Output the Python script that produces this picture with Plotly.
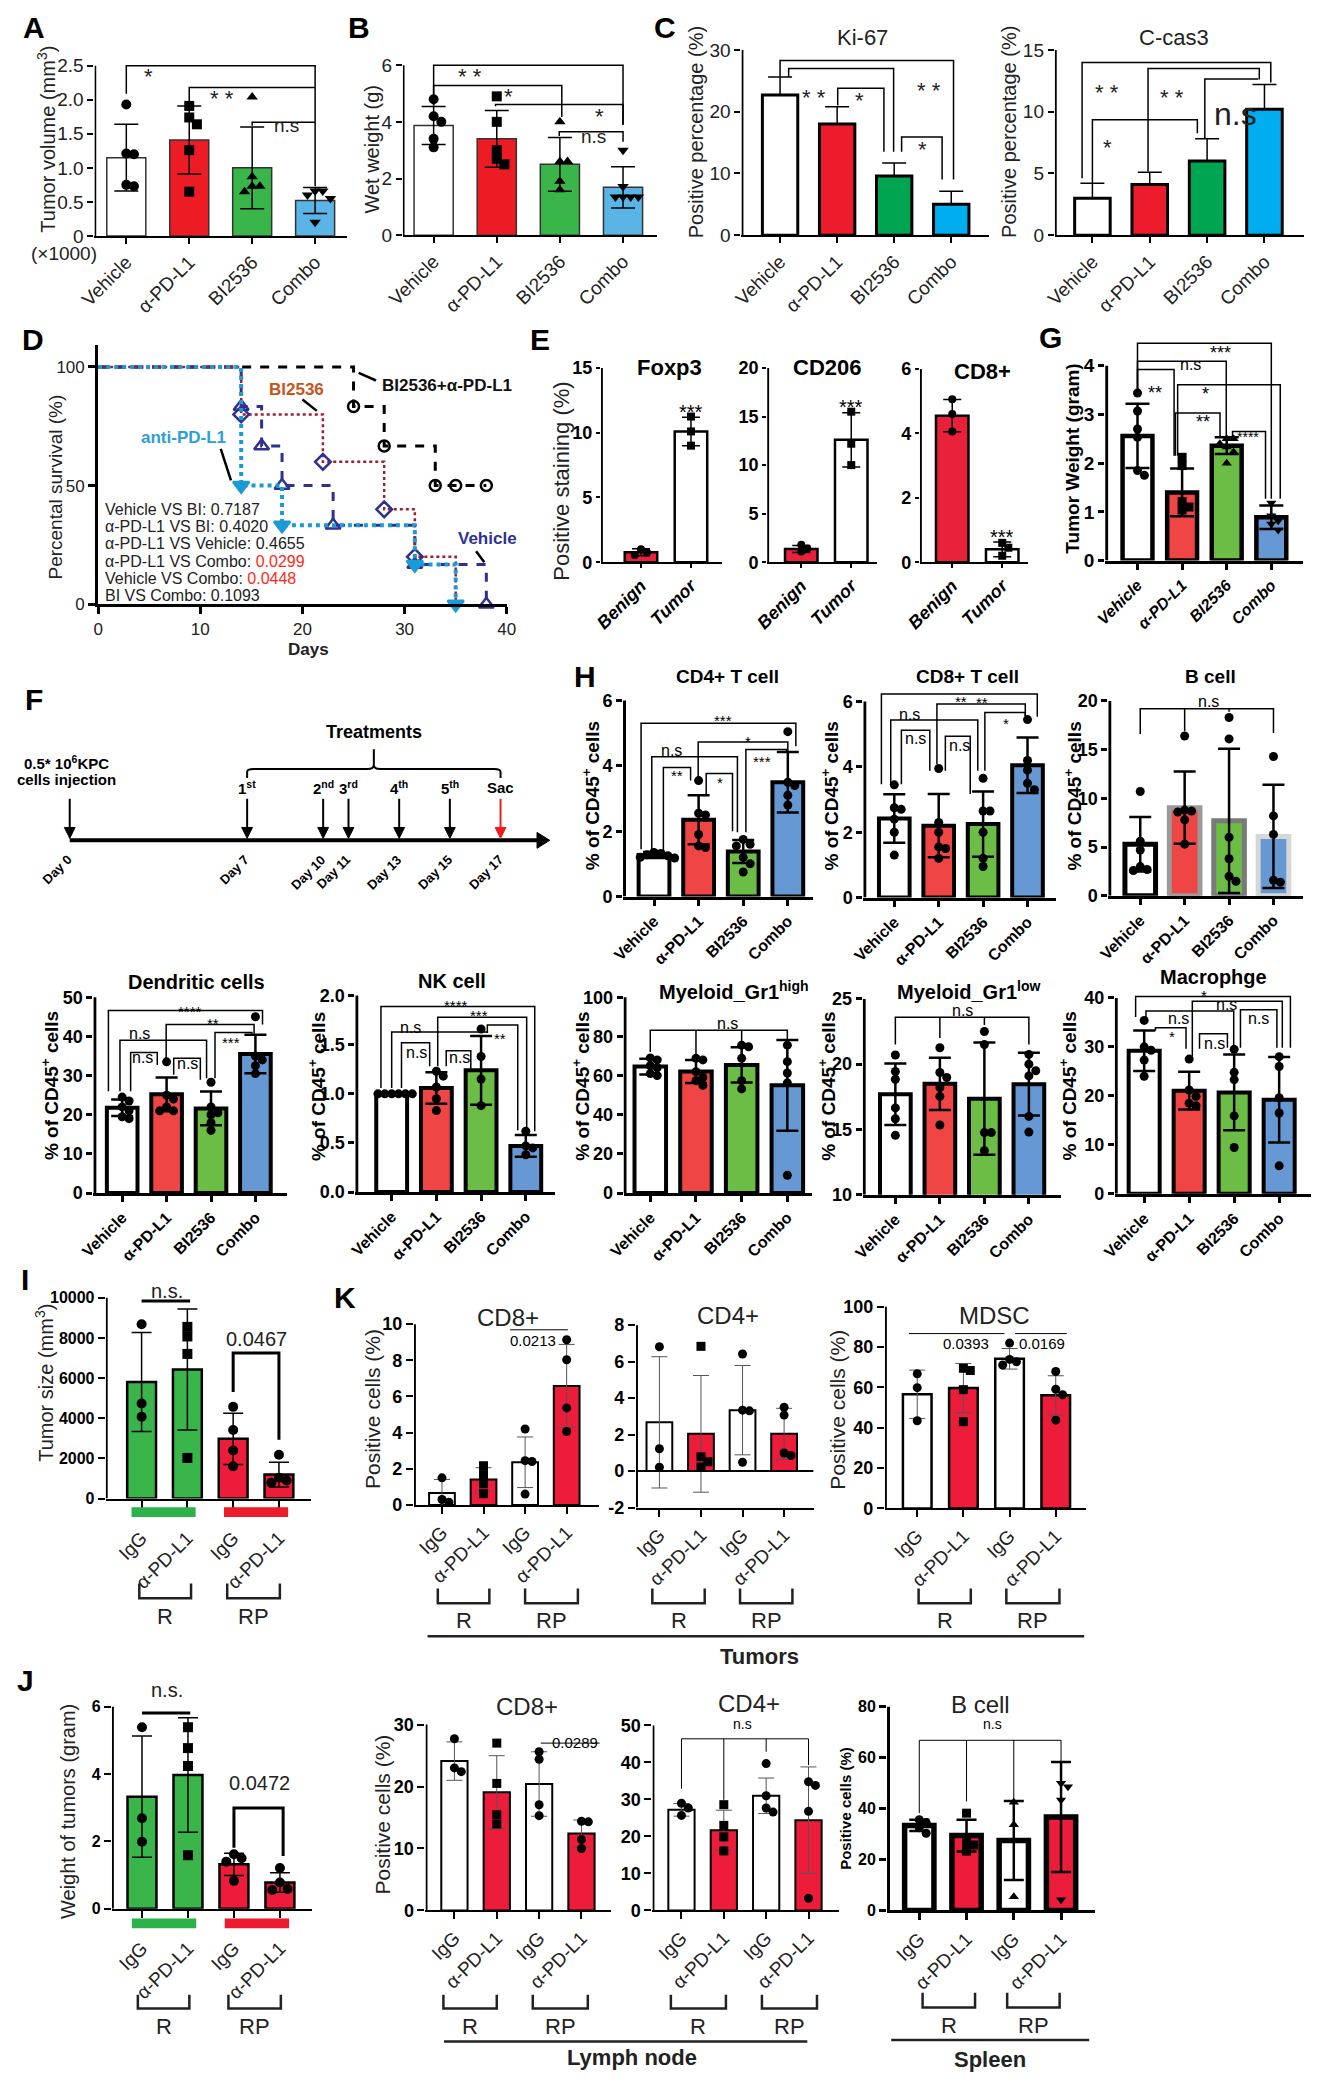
import plotly.graph_objects as go

W, H = 1321, 2084
FONT = "Liberation Sans, Arial, Helvetica, sans-serif"
NARROW = "Liberation Sans Narrow, Arial Narrow, Liberation Sans, Arial, sans-serif"

# ======================= DATA =======================
TREAT = ["Vehicle", "α-PD-L1", "BI2536", "Combo"]
IGG = ["IgG", "α-PD-L1", "IgG", "α-PD-L1"]
TISSUE = ["Benign", "Tumor"]

A_mean = [1.15, 1.41, 1.0, 0.52]
A_sd = [0.49, 0.5, 0.6, 0.19]
A_pts = [[1.93, 1.21, 1.2, 0.75, 0.73], [1.91, 1.74, 1.64, 1.26, 0.65],
         [2.04, 0.87, 0.73, 0.73, 0.65], [0.66, 0.66, 0.6, 0.55, 0.2]]

B_mean = [3.87, 3.4, 2.5, 1.69]
B_sd = [0.67, 1.0, 0.95, 0.73]
B_pts = [[4.8, 4.2, 4.0, 3.4, 3.1], [4.9, 4.0, 3.0, 2.7, 2.5],
         [4.0, 2.6, 2.6, 1.9, 1.6], [3.0, 1.72, 1.35, 1.35, 1.35, 1.35]]

KI67_mean = [22.7, 18.0, 9.6, 5.0]
KI67_sd = [2.9, 2.8, 2.1, 2.1]
CAS3_mean = [3.0, 4.1, 6.0, 10.2]
CAS3_sd = [1.2, 1.0, 1.8, 2.0]

SURV_combo_t = [0, 25, 28, 33, 38]
SURV_combo_s = [100, 83.3, 66.7, 50, 50]
SURV_combo_mt = [25, 28, 33, 35, 38]
SURV_combo_ms = [83.3, 66.7, 50, 50, 50]
SURV_veh_t = [0, 14, 16, 18, 23, 31, 38]
SURV_veh_s = [100, 83.3, 66.7, 50, 33.3, 16.7, 0]
SURV_bi_t = [0, 14, 22, 28, 31, 35]
SURV_bi_s = [100, 80, 60, 40, 20, 0]
SURV_anti_t = [0, 14, 18, 31, 35]
SURV_anti_s = [100, 50, 33.3, 16.7, 0]
SURV_cmp = ["Vehicle VS BI", "α-PD-L1 VS BI", "α-PD-L1 VS Vehicle",
            "α-PD-L1 VS Combo", "Vehicle VS Combo", "BI VS Combo"]
SURV_p = ["0.7187", "0.4020", "0.4655", "0.0299", "0.0448", "0.1093"]

FOXP3_mean = [0.77, 10.1]; FOXP3_sd = [0.27, 1.1]
FOXP3_pts = [[1.0, 0.74, 0.55], [11.25, 10.1, 9.0]]
CD206_mean = [1.36, 12.6]; CD206_sd = [0.35, 2.8]
CD206_pts = [[1.8, 1.4, 1.1], [15.5, 12.2, 10.0]]
ECD8_mean = [4.55, 0.4]; ECD8_sd = [0.5, 0.23]
ECD8_pts = [[5.06, 4.6, 4.06], [0.6, 0.45, 0.2]]

G_mean = [2.56, 1.4, 2.36, 0.89]; G_sd = [0.66, 0.49, 0.17, 0.24]
G_pts = [[3.44, 3.07, 2.7, 2.53, 1.85, 1.75], [2.12, 1.95, 1.21, 1.1, 1.04],
         [2.5, 2.5, 2.4, 2.33, 2.23, 2.0], [1.18, 0.92, 0.82, 0.75, 0.63]]

TL_days = [0, 7, 10, 11, 13, 15, 17]
TL_events = ["", "1<sup>st</sup>", "2<sup>nd</sup>", "3<sup>rd</sup>", "4<sup>th</sup>", "5<sup>th</sup>", "Sac"]

HCD4_mean = [1.27, 2.35, 1.38, 3.5]; HCD4_sd = [0.09, 0.75, 0.35, 0.93]
HCD4_pts = [[1.35, 1.32, 1.28, 1.25, 1.2, 1.18], [3.55, 2.55, 2.5, 1.9, 1.55, 1.5],
            [1.75, 1.6, 1.55, 1.2, 1.0, 0.75], [5.05, 3.5, 3.4, 3.1, 2.8]]
HCD8_mean = [2.42, 2.2, 2.25, 4.05]; HCD8_sd = [0.74, 0.97, 1.0, 0.85]
HCD8_pts = [[3.45, 2.75, 2.7, 2.4, 2.0, 1.3], [3.95, 2.3, 2.0, 1.55, 1.5, 1.2],
            [3.65, 2.65, 2.65, 2.0, 1.2, 0.95], [5.45, 4.2, 3.9, 3.5, 3.3]]
HB_mean = [5.3, 9.05, 7.7, 6.1]; HB_sd = [2.8, 3.7, 7.4, 5.3]
HB_pts = [[10.7, 5.6, 4.7, 3.0, 2.7, 2.6], [16.4, 8.8, 8.7, 8.6, 7.8, 5.3],
          [18.3, 16.1, 6.0, 3.8, 2.0, 1.5], [14.3, 8.2, 6.3, 1.6, 1.4]]
DC_mean = [21.8, 25.2, 21.6, 35.5]; DC_sd = [2.1, 4.3, 4.3, 4.9]
DC_pts = [[24.5, 23.5, 22, 21, 19.5, 19], [33.5, 25, 24, 22, 21, 21],
          [28.3, 22, 20.5, 20, 18, 16], [45, 35, 34, 32.5, 30.5]]
NK_mean = [1.0, 1.06, 1.24, 0.47]; NK_sd = [0.01, 0.16, 0.35, 0.11]
NK_pts = [[1, 1, 1, 1, 1, 1], [1.23, 1.18, 1.07, 0.95, 0.83],
          [1.66, 1.38, 1.15, 0.88], [0.62, 0.47, 0.45, 0.38]]
MYH_mean = [64.6, 62.1, 65.4, 55.0]; MYH_sd = [4.0, 5.9, 9.0, 23.2]
MYH_pts = [[69, 68, 65, 64, 61, 60], [68.8, 68, 62, 59, 57.4, 55],
           [75.5, 74.7, 68.8, 57.4, 53.2], [75.5, 67.1, 61.3, 56.3, 9.1]]
MYL_mean = [17.7, 18.5, 17.36, 18.47]; MYL_sd = [2.35, 2.0, 4.3, 2.4]
MYL_pts = [[20.7, 19.44, 18.85, 16.65, 15.82, 14.55], [21.26, 19.36, 18.98, 18.2, 17.54, 15.34],
           [22.5, 21.5, 14.76, 14.76, 13.37], [20.75, 20.0, 19.5, 19.1, 16.0, 14.8]]
MAC_mean = [29.2, 21.05, 20.7, 19.2]; MAC_sd = [4.15, 3.85, 7.75, 8.75]
MAC_pts = [[35.4, 30.0, 29.3, 27.3, 24.0], [27.5, 21.2, 19.9, 18.5, 18.0],
           [29.5, 24.8, 23.3, 15.9, 9.45], [28.0, 26.0, 19.6, 16.5, 5.7]]

I_mean = [5806, 6431, 2976, 1199]; I_sd = [2468, 3011, 1276, 617]
I_pts = [[8687, 4738, 4077], [8553, 8075, 7206, 2024], [4570, 3420, 2398, 1609], [2187, 1036, 903, 790]]
KCD8_mean = [0.66, 1.41, 2.36, 6.58]; KCD8_sd = [0.75, 0.65, 1.4, 2.3]
KCD8_pts = [[1.5, 0.3, 0.15], [2.17, 1.68, 1.17, 0.62], [4.2, 2.45, 2.4, 0.6], [9.14, 8.03, 5.37, 4.06]]
KCD4_mean = [2.67, 2.04, 3.34, 2.04]; KCD4_sd = [3.6, 3.2, 2.45, 1.4]
KCD4_pts = [[6.82, 1.22, 0.21], [6.84, 0.78, 0.51, 0.22], [6.42, 3.34, 3.3, 0.48], [3.5, 3.07, 0.99, 0.85]]
MDSC_mean = [56.6, 59.7, 74.2, 56.1]; MDSC_sd = [12.0, 12.2, 5.1, 9.7]
MDSC_pts = [[66.8, 59.9, 43.5], [69.5, 68.4, 58.9, 43.0], [82.0, 73.9, 72.7, 71.1], [67.9, 59.1, 56.4, 43.8]]

J_mean = [3.33, 3.97, 1.32, 0.78]; J_sd = [1.8, 1.7, 0.33, 0.29]
J_pts = [[5.39, 2.69, 1.99], [5.39, 4.77, 4.24, 1.59], [1.62, 1.5, 1.4, 0.83], [1.21, 0.78, 0.59, 0.56]]
LN8_mean = [24.1, 19.07, 20.4, 12.4]; LN8_sd = [3.1, 5.9, 5.2, 2.2]
LN8_pts = [[27.7, 23.0, 22.4], [27.0, 20.5, 15.45, 13.96], [25.6, 24.4, 17.05, 15.3], [14.4, 14.3, 11.46, 10.0]]
LN4_mean = [27.2, 21.7, 31.0, 24.4]; LN4_sd = [1.7, 5.4, 4.8, 14.4]
LN4_pts = [[29.0, 27.7, 25.7], [28.6, 23.0, 19.9, 16.1], [39.7, 31.0, 27.7, 26.6], [34.8, 33.8, 26.8, 3.3]]
SPB_mean = [33.4, 29.4, 27.5, 36.7]; SPB_sd = [2.2, 6.2, 15.5, 21.6]
SPB_pts = [[35.6, 34.5, 32.5, 30.3], [38.2, 26.6, 25.7, 23.3], [42.5, 33.7, 5.4], [49.9, 48.6, 43.4, 4.2]]

# ======================= STYLE =======================
C_AB = ["#ffffff", "#ed1c24", "#39b54a", "#5ab4e6"]
C_C = ["#ffffff", "#ec1c2c", "#00a551", "#00adee"]
C_H = ["#ffffff", "#ef4545", "#6cbd45", "#6699d3"]
C_E = ["#e8203a", "#ffffff"]
C_IJ = ["#39b54a", "#39b54a", "#ec1c3a", "#ec1c3a"]
C_K = ["#ffffff", "#ec1c3a", "#ffffff", "#ec1c3a"]
SYM4 = ["circle", "square", "triangle-up", "triangle-down"]
CIRC4 = ["circle"] * 4
SQ4 = ["circle", "square", "circle", "circle"]


def F(size, fam=FONT, bold=False, italic=False, color="black"):
    return dict(family=fam, size=size, color=color, weight="bold" if bold else "normal",
                style="italic" if italic else "normal")


ST_AB = dict(bw=0.62, blw=1.5, blc="#333", elw=1.5, ecap=12, ms=10, axw=1.8, tl=6, tw=1.8,
             yf=F(19, color="#222"), xf=F(19, color="#222"), brw=1.5,
             lf=F(22, color="#222"), nf=F(19, color="#222"))
ST_C = dict(bw=0.62, blw=3, elw=1.5, ecap=12, ms=0, axw=2, tl=6, tw=2,
            yf=F(19, NARROW, color="#222"), xf=F(19, color="#222"), brw=1.5,
            lf=F(22, color="#222"), nf=F(19, color="#222"))
ST_E = dict(bw=0.65, blw=2.5, elw=1.5, ecap=9, ms=8, axw=2, tl=4, tw=2,
            yf=F(18, NARROW, bold=True), xf=F(18, bold=True, italic=True), brw=1.5,
            lf=F(20), nf=F(18), noshift=True)
ST_G = dict(bw=0.67, blw=4.5, elw=2.5, ecap=12, ms=9, axw=3, tl=6, tw=3,
            yf=F(19, NARROW, bold=True), xf=F(16, bold=True, italic=True), brw=1.5,
            lf=F(18, NARROW), nf=F(16, NARROW))
ST_H = dict(bw=0.69, blw=4, elw=2.5, ecap=11, ms=9, axw=3, tl=6, tw=3,
            yf=F(18, bold=True), xf=F(16, bold=True), brw=1.5,
            lf=F(15), nf=F(16, NARROW))
ST_I = dict(bw=0.63, blw=2.5, elw=1.5, ecap=10, ms=10, axw=2, tl=7, tw=2, xstand=12,
            yf=F(16, NARROW, bold=True), xf=F(19, color="#222"), brw=3,
            lf=F(20, color="#222"), nf=F(20, color="#222"))
ST_K = dict(bw=0.62, blw=2, elw=1, ecol="#555", ecap=8, ms=9, axw=2, tl=7, tw=2,
            yf=F(18, NARROW, bold=True), xf=F(19, color="#222"), brw=1,
            lf=F(15, NARROW), nf=F(15, NARROW))
ST_SP = dict(ST_K, blw=5.5, elw=2.5, ecol="black", ecap=10, axw=3, tw=3, yf=F(16, NARROW, bold=True))

# ======================= BUILD =======================
fig = go.Figure()
LAY, SHP, ANN = {}, [], []


def refs(n):
    s = "" if n == 1 else str(n)
    return "x" + s, "y" + s, "xaxis" + s, "yaxis" + s


def text(xp, yp, s, font, angle=0, xanchor="center", yanchor="middle"):
    ANN.append(dict(x=xp / W, y=1 - yp / H, xref="paper", yref="paper", text=s, showarrow=False,
                    font=font, textangle=angle, xanchor=xanchor, yanchor=yanchor))


def fmt(t):
    return str(int(t)) if float(t).is_integer() else str(t)


def swarm(vals, ppu, sp, ms, k=0.78):
    d = ms * k
    placed, out = [], []
    for v in vals:
        y = v * ppu
        dx = 0.0
        for j in [0, 1, -1, 2, -2, 3, -3, 4, -4, 5, -5]:
            dx = j * d
            if all((dx - a) ** 2 + (y - b) ** 2 >= d * d * 0.999 for a, b in placed):
                break
        placed.append((dx, y))
        out.append(dx / sp)
    return out


def bar_panel(n, cats, means, sds, pts, fills, syms, g, st, brackets=(), up_only=False, line_cols=None):
    xr_, yr_, xk, yk = refs(n)
    ppu = (g["yb"] - g["yt"]) / (g["ytv"] - g["ybv"])
    top = g["yb"] - (g["ymax"] - g["ybv"]) * ppu
    x0 = (g["xl"] - g["c0"]) / g["sp"]
    x1 = (g["xr"] - g["c0"]) / g["sp"]
    xs = list(range(len(cats)))
    fig.add_trace(go.Bar(
        x=xs, y=means, width=st["bw"], xaxis=xr_, yaxis=yr_, showlegend=False, hoverinfo="skip",
        marker=dict(color=fills, line=dict(color=line_cols if line_cols else st.get("blc", "black"),
                                            width=st["blw"])),
        error_y=dict(type="data", symmetric=False, array=sds,
                     arrayminus=[0] * len(sds) if up_only else sds,
                     thickness=st["elw"], width=st["ecap"], color=st.get("ecol", "black"))))
    if pts:
        for i, vals in enumerate(pts):
            offs = swarm(vals, ppu, g["sp"], st["ms"])
            fig.add_trace(go.Scatter(
                x=[i + o for o in offs], y=vals, mode="markers", xaxis=xr_, yaxis=yr_,
                showlegend=False, hoverinfo="skip", cliponaxis=False,
                marker=dict(symbol=syms[i], size=st["ms"], color="black", line=dict(width=0))))
    LAY[xk] = dict(domain=[g["xl"] / W, g["xr"] / W], range=[x0, x1], anchor=yr_, tickmode="array",
                   tickvals=xs, ticktext=cats, tickangle=-45, showline=True, linecolor="black",
                   linewidth=st["axw"], ticks="outside", ticklen=st["tl"], tickwidth=st["tw"],
                   tickcolor="black", tickfont=st["xf"], showgrid=False, zeroline=False,
                   ticklabelstandoff=st.get("xstand", 0), fixedrange=True)
    LAY[yk] = dict(domain=[1 - g["yb"] / H, 1 - top / H], range=[g["ybv"], g["ymax"]], anchor=xr_,
                   tickmode="array", tickvals=g["ticks"],
                   ticktext=g.get("tt", [fmt(t) for t in g["ticks"]]), showline=False,
                   ticks="outside", ticklen=st["tl"], tickwidth=st["tw"], tickcolor="black",
                   tickfont=st["yf"], showgrid=False, zeroline=False, fixedrange=True)
    xsp = x0 + st["axw"] / 2 / g["sp"]
    SHP.append(dict(type="line", xref=xr_, yref=yr_, x0=xsp, x1=xsp, y0=g["ybv"], y1=g["ytv"],
                    line=dict(color="black", width=st["axw"])))
    for b in brackets:
        bx1, by1, bx2, by2, yl, lab, lx, ly = b[:8]
        extra = b[8] if len(b) > 8 and b[8] else []
        fsz = b[9] if len(b) > 9 else None
        if yl is not None:
            p = "M %s,%s L %s,%s L %s,%s L %s,%s" % (bx1, yl if by1 is None else by1, bx1, yl, bx2, yl,
                                                    bx2, yl if by2 is None else by2)
            for ex, ey in extra:
                p += " M %s,%s L %s,%s" % (ex, yl, ex, ey)
            SHP.append(dict(type="path", path=p, xref=xr_, yref=yr_,
                            line=dict(color="black", width=st["brw"])))
        f = dict(st["lf"] if "*" in lab else st["nf"])
        if fsz:
            f["size"] = fsz
        ly_px = g["yb"] - (ly - g["ybv"]) * ppu
        shift = -0.22 * f["size"] if ("*" in lab and not st.get("noshift")) else 0
        ANN.append(dict(x=lx, y=1 - ly_px / H, xref=xr_, yref="paper", text=lab, showarrow=False, font=f,
                        yshift=shift))
    return xr_, yr_, x0, x1


def groups(n, spans, ytop, ybot, ylab, size=22):
    xr_ = refs(n)[0]
    for (a, b), lab in zip(spans, ["R", "RP"]):
        SHP.append(dict(type="path", xref=xr_, yref="paper",
                        path="M %s,%s L %s,%s L %s,%s L %s,%s" % (a, 1 - ytop / H, a, 1 - ybot / H,
                                                                  b, 1 - ybot / H, b, 1 - ytop / H),
                        line=dict(color="#222", width=2.5)))
        ANN.append(dict(x=(a + b) / 2, y=1 - ylab / H, xref=xr_, yref="paper", text=lab,
                        showarrow=False, yanchor="top", font=F(size, color="#222")))


def colorbars(n, y0, y1):
    xr_ = refs(n)[0]
    for (a, b), c in [((-0.22, 1.18), "#2db24a"), ((1.8, 3.2), "#ec1c2e")]:
        SHP.append(dict(type="rect", xref=xr_, yref="paper", x0=a, x1=b, y0=1 - y1 / H, y1=1 - y0 / H,
                        fillcolor=c, line=dict(width=0)))


def hline(x0p, x1p, yp, w=2.5):
    SHP.append(dict(type="line", xref="paper", yref="paper", x0=x0p / W, x1=x1p / W,
                    y0=1 - yp / H, y1=1 - yp / H, line=dict(color="#222", width=w)))


LETTER = F(30, bold=True)

# ---------------- A ----------------
bar_panel(1, TREAT, A_mean, A_sd, A_pts, C_AB, SYM4,
          dict(xl=79, xr=337, c0=111.5, sp=64.2, yb=230, ybv=0, yt=58.3, ytv=2.5, ymax=2.56,
               ticks=[0, 0.5, 1, 1.5, 2, 2.5], tt=["0", "0.5", "1.0", "1.5", "2.0", "2.5"]),
          ST_AB,
          [(0, 2.09, 3, 0.73, 2.5, "*", 0.35, 2.62),
           (1, 1.94, 3, None, 2.18, "* *", 1.52, 2.3),
           (2, 1.62, 3, None, 1.67, "n.s", 2.55, 1.8)])
text(17, 20, "A", LETTER)
text(30.5, 132, "Tumor volume (mm<sup>3</sup>)", F(20, color="#222"), angle=-90)
text(48, 248, "(×1000)", F(19, color="#222"))

# ---------------- B ----------------
bar_panel(2, TREAT, B_mean, B_sd, B_pts, C_AB, SYM4,
          dict(xl=393.5, xr=652.4, c0=425, sp=64.4, yb=229.3, ybv=0, yt=57.7, ytv=6, ymax=6.08,
               ticks=[0, 2, 4, 6]),
          ST_AB,
          [(0, 4.58, 3, 3.9, 6.0, "* *", 0.58, 6.29),
           (0, 4.58, 2.03, 4.17, 5.28, "*", 1.18, 5.57),
           (0.98, 4.55, 3, 3.9, 4.61, "*", 2.63, 4.87),
           (1.99, 3.5, 3, 3.3, 3.65, "n.s", 2.54, 3.94)])
text(349, 20, "B", LETTER)
text(362, 142, "Wet weight (g)", F(20, color="#222"), angle=-90)

# ---------------- C ----------------
bar_panel(3, TREAT, KI67_mean, KI67_sd, None, C_C, SYM4,
          dict(xl=739, xr=992, c0=778.4, sp=58.2, yb=229.3, ybv=0, yt=42.3, ytv=30, ymax=30.3,
               ticks=[0, 10, 20, 30]),
          ST_C,
          [(0, 25.7, 3.04, 9.0, 28.3, "* *", 2.61, 26.6),
           (0.15, 25.6, 1.99, 13.5, 27.0, "* *", 0.59, 25.4),
           (1.01, 21.0, 1.82, 13.5, 23.8, "*", 1.4, 24.9),
           (2.13, 13.5, 2.84, 9.0, 15.9, "*", 2.5, 17.0)], up_only=True)
bar_panel(4, TREAT, CAS3_mean, CAS3_sd, None, C_C, SYM4,
          dict(xl=1058.6, xr=1313, c0=1097, sp=58.5, yb=229.3, ybv=0, yt=42.3, ytv=15, ymax=15.15,
               ticks=[0, 5, 10, 15]),
          ST_C,
          [(-0.18, 4.62, 3.11, 12.37, 13.98, "* *", 0.26, 13.1),
           (0.97, 5.16, 2.91, 12.6, 13.5, "* *", 1.39, 12.72),
           (1.96, 7.83, 2.89, None, 12.64, "n.s", 2.49, 11.4, None, 32),
           (0, 4.2, 1.83, 8.25, 9.35, "*", 0.26, 8.63)], up_only=True)
text(661, 20, "C", LETTER)
text(862.7, 30, "Ki-67", F(22, color="#222"))
text(1180.6, 30, "C-cas3", F(22, color="#222"))
text(692, 125, "Positive percentage (%)", F(20, color="#222"), angle=-90)
text(1012, 125, "Positive percentage (%)", F(20, color="#222"), angle=-90)

# ---------------- D survival ----------------
xr_, yr_, xk, yk = refs(5)
LAY[xk] = dict(domain=[82.8 / W, 499.6 / W], range=[0, 40], anchor=yr_, tickmode="array",
               tickvals=[0, 10, 20, 30, 40], showline=True, linewidth=3, linecolor="black",
               ticks="outside", ticklen=7, tickwidth=2.5, tickcolor="black",
               tickfont=F(17, color="#222"), showgrid=False, zeroline=False, fixedrange=True)
LAY[yk] = dict(domain=[1 - 601.7 / H, 1 - 340 / H], range=[0, 109.3], anchor=xr_, tickmode="array",
               tickvals=[0, 50, 100], showline=True, linewidth=3, linecolor="black",
               ticks="outside", ticklen=7, tickwidth=2.5, tickcolor="black",
               tickfont=F(17, color="#222"), showgrid=False, zeroline=False, fixedrange=True)
survs = [
    (SURV_combo_t, SURV_combo_s, SURV_combo_mt, SURV_combo_ms, "black", "dash", "circle-open", 11, "black", 3),
    (SURV_veh_t, SURV_veh_s, SURV_veh_t[1:], SURV_veh_s[1:], "#2e3192", "dash", "triangle-up-open", 13, "#2e3192", 3),
    (SURV_bi_t, SURV_bi_s, SURV_bi_t[1:5], SURV_bi_s[1:5], "#9e1f2f", "dot", "diamond-open", 12, "#2e3192", 2.5),
    (SURV_anti_t, SURV_anti_s, SURV_anti_t[1:], SURV_anti_s[1:], "#1b9ad6", "dot", "triangle-down", 14, "#1b9ad6", 4),
]
for t, s, mt, ms_, col, dash, sym, msz, mcol, lw in survs:
    fig.add_trace(go.Scatter(x=t, y=s, mode="lines", line=dict(shape="hv", dash=dash, color=col, width=lw),
                             xaxis=xr_, yaxis=yr_, showlegend=False, hoverinfo="skip"))
    fig.add_trace(go.Scatter(x=mt, y=ms_, mode="markers", cliponaxis=False, xaxis=xr_, yaxis=yr_,
                             showlegend=False, hoverinfo="skip",
                             marker=dict(symbol=sym, size=msz, color=mcol, line=dict(color=mcol, width=2.5))))
for (a, b, c, d) in [(25.5, 97.5, 27.2, 94.3), (20.0, 86.3, 21.4, 81.5), (12.0, 65.5, 13.0, 52.2),
                     (37.0, 22.3, 37.8, 17.7)]:
    SHP.append(dict(type="line", xref=xr_, yref=yr_, x0=a, y0=b, x1=c, y1=d, line=dict(color="black", width=2.5)))
ANN.append(dict(x=27.6, y=92.2, xref=xr_, yref=yr_, text="BI2536+α-PD-L1", showarrow=False,
                xanchor="left", font=F(17, bold=True, color="#111")))
ANN.append(dict(x=19.4, y=90.5, xref=xr_, yref=yr_, text="BI2536", showarrow=False,
                font=F(17, bold=True, color="#c8541a")))
ANN.append(dict(x=8.4, y=70.3, xref=xr_, yref=yr_, text="anti-PD-L1", showarrow=False,
                font=F(17, bold=True, color="#2b9fd8")))
ANN.append(dict(x=38.1, y=27.9, xref=xr_, yref=yr_, text="Vehicle", showarrow=False,
                font=F(17, bold=True, color="#2e3192")))
for i, (cmp_, p) in enumerate(zip(SURV_cmp, SURV_p)):
    ptxt = "<span style='color:#ff2a1a'>%s</span>" % p if float(p) < 0.05 else p
    ANN.append(dict(x=0.5, y=40.0 - i * 7.3, xref=xr_, yref=yr_, text="%s: %s" % (cmp_, ptxt),
                    showarrow=False, xanchor="left", font=F(16, color="#222")))
text(16, 335, "D", LETTER)
text(297, 647, "Days", F(17, bold=True, color="#222"))
text(39.7, 483, "Percental survival (%)", F(19, color="#222"), angle=-90)

# ---------------- E ----------------
bar_panel(6, TISSUE, FOXP3_mean, FOXP3_sd, FOXP3_pts, C_E, ["circle", "square"],
          dict(xl=595.6, xr=719, c0=636.5, sp=51, yb=559.3, ybv=0, yt=363.3, ytv=15, ymax=15.2,
               ticks=[0, 5, 10, 15]), ST_E, [(1, None, 1, None, None, "***", 1, 12.6)])
bar_panel(7, TISSUE, CD206_mean, CD206_sd, CD206_pts, C_E, ["circle", "square"],
          dict(xl=765.2, xr=877.6, c0=800, sp=51, yb=559.3, ybv=0, yt=363.3, ytv=20, ymax=20.3,
               ticks=[0, 5, 10, 15, 20]), ST_E, [(1, None, 1, None, None, "***", 1, 17.3)])
bar_panel(8, TISSUE, ECD8_mean, ECD8_sd, ECD8_pts, C_E, ["circle", "square"],
          dict(xl=921, xr=1030.8, c0=954, sp=51, yb=559.3, ybv=0, yt=364.3, ytv=6, ymax=6.1,
               ticks=[0, 2, 4, 6]), ST_E, [(1, None, 1, None, None, "***", 1, 1.18)])
text(533, 335, "E", LETTER)
text(665.6, 363.3, "Foxp3", F(22, NARROW, bold=True))
text(826.5, 363.3, "CD206", F(22, NARROW, bold=True))
text(984.8, 366.7, "CD8+", F(22, NARROW, bold=True))
text(556, 478, "Positive staining (%)", F(22, color="#222"), angle=-90)

# ---------------- G ----------------
bar_panel(9, TREAT, G_mean, G_sd, G_pts, C_H, SYM4,
          dict(xl=1110, xr=1311.7, c0=1143, sp=45.5, yb=557.7, ybv=0, yt=361, ytv=4, ymax=4.5,
               ticks=[0, 1, 2, 3, 4]), ST_G,
          [(0, 3.51, 3.0, 1.27, 4.46, "***", 1.85, 4.58),
           (0, 3.51, 1.99, 2.56, 4.09, "n.s", 1.18, 4.24),
           (0, 3.51, 0.82, 2.15, 3.92, "**", 0.39, 3.76),
           (0.9, 2.15, 3.2, 1.27, 3.61, "*", 1.52, 3.74),
           (0.85, 2.15, 1.85, 2.56, 3.03, "**", 1.46, 3.17),
           (2.13, 2.55, 2.87, 1.27, 2.65, "****", 2.47, 2.81, None, 14)])
text(1054, 333, "G", LETTER)
text(1077, 455, "Tumor Weight (gram)", F(19, bold=True), angle=-90)

# ---------------- F timeline ----------------
xr_, yr_, xk, yk = refs(10)
TL_PPD, TL_X0 = 25.85, 53.8
LAY[xk] = dict(domain=[0, 570 / W], range=[(0 - TL_X0) / TL_PPD, (570 - TL_X0) / TL_PPD], visible=False,
               anchor=yr_, fixedrange=True)
LAY[yk] = dict(domain=[1 - 900 / H, 1 - 700 / H], range=[900, 700], visible=False, anchor=xr_, fixedrange=True)
fig.add_trace(go.Scatter(x=TL_days, y=[840] * len(TL_days), mode="markers", xaxis=xr_, yaxis=yr_,
                         marker=dict(size=1, opacity=0), showlegend=False, hoverinfo="skip"))
tl_end = (543.4 - TL_X0) / TL_PPD
hw = 5.5 / TL_PPD
SHP.append(dict(type="line", xref=xr_, yref=yr_, x0=TL_days[0], x1=tl_end - 0.3, y0=840, y1=840,
                line=dict(color="black", width=4)))
SHP.append(dict(type="path", xref=xr_, yref=yr_, fillcolor="black", line=dict(color="black", width=1),
                path="M %s,832 L %s,840 L %s,848 Z" % (tl_end - 0.5, tl_end, tl_end - 0.5)))
for i, (d, ev) in enumerate(zip(TL_days, TL_events)):
    col = "#ee1c1c" if i == len(TL_days) - 1 else "black"
    SHP.append(dict(type="line", xref=xr_, yref=yr_, x0=d, x1=d, y0=798, y1=830,
                    line=dict(color=col, width=2)))
    SHP.append(dict(type="path", xref=xr_, yref=yr_, fillcolor=col, line=dict(color=col, width=1),
                    path="M %s,827 L %s,838 L %s,827 Z" % (d - hw, d, d + hw)))
    if ev:
        ANN.append(dict(x=d, y=787, xref=xr_, yref=yr_, text=ev, showarrow=False, font=F(15, bold=True)))
    ANN.append(dict(x=d, y=849, xref=xr_, yref=yr_, text="Day %d" % d, showarrow=False, textangle=-45,
                    xanchor="right", yanchor="top", xshift=8, font=F(13, bold=True)))
b0, b1 = TL_days[1], TL_days[-1]
bm = (b0 + b1) / 2
SHP.append(dict(type="path", xref=xr_, yref=yr_, line=dict(color="black", width=2),
                path="M %s,777 L %s,771 Q %s,768 %s,768 L %s,768 Q %s,768 %s,764 L %s,748 "
                     "M %s,764 Q %s,768 %s,768 L %s,768 Q %s,768 %s,771 L %s,777"
                     % (b0, b0, b0, b0 + 0.25, bm - 0.25, bm, bm, bm,
                        bm, bm, bm + 0.25, b1 - 0.25, b1, b1, b1)))
ANN.append(dict(x=bm, y=731, xref=xr_, yref=yr_, text="Treatments", showarrow=False, font=F(18, bold=True)))
ANN.append(dict(x=0, y=761.7, xref=xr_, yref=yr_, text="0.5* 10<sup>6</sup>KPC", showarrow=False,
                xshift=-3, font=F(15, bold=True)))
ANN.append(dict(x=0, y=778.3, xref=xr_, yref=yr_, text="cells injection", showarrow=False,
                xshift=-3, font=F(15, bold=True)))
text(17, 698, "F", LETTER)

# ---------------- H ----------------
bar_panel(11, TREAT, HCD4_mean, HCD4_sd, HCD4_pts, C_H, CIRC4,
          dict(xl=618.2, xr=812.4, c0=649.8, sp=45.5, yb=896.7, ybv=0, yt=699, ytv=6, ymax=6.05,
               ticks=[0, 2, 4, 6]), ST_H,
          [(-0.29, 1.45, 3.18, 4.6, 5.31, "***", 1.55, 5.5),
           (0.99, 3.64, 3.0, 4.45, 4.73, "*", 2.11, 4.86),
           (-0.05, 1.4, 1.87, 1.97, 4.28, "n.s", 0.4, 4.46),
           (2.06, 1.97, 2.97, 4.45, 4.5, "***", 2.43, 4.25),
           (0.21, 1.4, 0.82, 3.55, 3.95, "**", 0.51, 3.8),
           (1.17, 3.1, 1.76, 2.0, 3.77, "*", 1.47, 3.6)])
bar_panel(12, TREAT, HCD8_mean, HCD8_sd, HCD8_pts, C_H, CIRC4,
          dict(xl=863.3, xr=1059.9, c0=894.9, sp=45.3, yb=897.7, ybv=0, yt=700, ytv=6, ymax=6.3,
               ticks=[0, 2, 4, 6]), ST_H,
          [(-0.29, 3.47, 3.22, 5.54, 6.23, "**", 1.5, 6.42),
           (0.96, 4.08, 2.95, 5.56, 5.93, "**", 1.98, 6.07),
           (-0.08, 3.47, 1.88, 3.88, 5.44, "n.s", 0.34, 5.62),
           (2.04, 3.88, 2.95, 5.56, 5.67, "*", 2.52, 5.44),
           (0.16, 3.47, 0.8, 3.88, 5.12, "n.s", 0.48, 4.88),
           (1.15, 3.88, 1.71, 3.17, 4.94, "n.s", 1.47, 4.66)])
bar_panel(13, TREAT, HB_mean, HB_sd, HB_pts, C_H, CIRC4,
          dict(xl=1113.2, xr=1312, c0=1145.8, sp=45.3, yb=896, ybv=0, yt=699.3, ytv=20, ymax=20.2,
               ticks=[0, 5, 10, 15, 20]), dict(ST_H, blw=5),
          [(0, 16.6, 3, 16.7, 19.2, "n.s", 1.53, 19.9, [(1, 16.9), (2, 18.9)])],
          line_cols=["black", "#9a9a9a", "#7a7a7a", "#d6d6d6"])
text(579, 675, "H", LETTER)
text(725, 675, "CD4+ T cell", F(19, bold=True))
text(970, 675, "CD8+ T cell", F(19, bold=True))
text(1217.6, 675, "B cell", F(19, bold=True))
for xp in [585, 829, 1077]:
    text(xp, 795, "% of CD45<sup>+</sup> cells", F(19, bold=True), angle=-90)

# ---------------- row 4 ----------------
bar_panel(14, TREAT, DC_mean, DC_sd, DC_pts, C_H, CIRC4,
          dict(xl=77.9, xr=275.7, c0=107.3, sp=45.3, yb=1196, ybv=0, yt=998.3, ytv=50, ymax=50.5,
               ticks=[0, 10, 20, 30, 40, 50]), ST_H,
          [(-0.31, 26, 3.16, 43, 46.6, "****", 1.53, 47.2),
           (0.99, 34.4, 2.97, 40.7, 43.0, "**", 2.04, 44.1),
           (-0.05, 26, 1.9, 29.3, 39.0, "n.s", 0.39, 40.7),
           (2.09, 29.3, 2.92, 40.7, 41.0, "***", 2.46, 39.3),
           (0.19, 26, 0.79, 32.7, 35.9, "n.s", 0.46, 34.6),
           (1.16, 30.2, 1.76, 28.9, 34.4, "n.s", 1.46, 33.0)])
bar_panel(15, TREAT, NK_mean, NK_sd, NK_pts, C_H, CIRC4,
          dict(xl=345.1, xr=549.3, c0=382.2, sp=45.6, yb=1195, ybv=0, yt=996.7, ytv=2.0, ymax=2.02,
               ticks=[0, 0.5, 1, 1.5, 2], tt=["0.0", "0.5", "1.0", "1.5", "2.0"]), ST_H,
          [(-0.24, 1.06, 3.2, 0.62, 1.89, "****", 1.45, 1.93),
           (1.03, 1.28, 3.02, 0.63, 1.78, "***", 1.96, 1.83),
           (0.0, 1.06, 2.14, 1.62, 1.63, "n.s", 0.43, 1.68),
           (2.14, 1.62, 2.82, 0.63, 1.70, "**", 2.42, 1.6),
           (0.22, 1.06, 0.85, 1.28, 1.52, "n.s", 0.55, 1.42),
           (1.22, 1.28, 1.77, 1.25, 1.44, "n.s", 1.51, 1.37)])
bar_panel(16, TREAT, MYH_mean, MYH_sd, MYH_pts, C_H, CIRC4,
          dict(xl=618.7, xr=810.5, c0=646, sp=46.6, yb=1196, ybv=0, yt=998.3, ytv=100, ymax=101,
               ticks=[0, 20, 40, 60, 80, 100]), ST_H,
          [(0, 72, 3, 78, 83.1, "n.s", 1.69, 86.5, [(1, 69.7), (2, 76.4)])])
bar_panel(17, TREAT, MYL_mean, MYL_sd, MYL_pts, C_H, CIRC4,
          dict(xl=862.7, xr=1065, c0=896, sp=45.4, yb=1197.7, ybv=10, yt=1000, ytv=25, ymax=25.2,
               ticks=[10, 15, 20, 25]), ST_H,
          [(0, 21.5, 3, 21.5, 23.6, "n.s", 1.51, 24.1, [(1, 22.0), (2, 23.0)])])
bar_panel(18, TREAT, MAC_mean, MAC_sd, MAC_pts, C_H, CIRC4,
          dict(xl=1119.8, xr=1319.7, c0=1149.8, sp=45.9, yb=1196.7, ybv=0, yt=999, ytv=40, ymax=40.8,
               ticks=[0, 10, 20, 30, 40]), ST_H,
          [(-0.19, 36.1, 3.25, 29.8, 40.3, "*", 1.32, 41.2),
           (1.07, 28.0, 3.07, 29.8, 39.3, "n.s", 1.84, 38.6),
           (0.04, 36.1, 1.99, 30.1, 37.3, "n.s", 0.76, 35.8),
           (2.14, 29.8, 2.95, 29.8, 37.6, "n.s", 2.53, 35.8),
           (0.25, 33.3, 0.93, 29.6, 33.9, "*", 0.62, 32.7),
           (1.23, 29.6, 1.85, 29.8, 32.7, "n.s", 1.56, 30.6)])
text(183, 983.3, "Dendritic cells", F(20, bold=True))
text(444, 981.7, "NK cell", F(20, bold=True))
text(731, 991.7, "Myeloid_Gr1<sup>high</sup>", F(20, bold=True))
text(971, 991.7, "Myeloid_Gr1<sup>low</sup>", F(20, bold=True))
text(1221, 978, "Macrophge", F(20, bold=True))
for xp in [33.7, 306, 575, 826, 1072.5]:
    text(xp, 1088, "% of CD45<sup>+</sup> cells", F(19, bold=True), angle=-90)

# ---------------- I ----------------
bar_panel(19, IGG, I_mean, I_sd, I_pts, C_IJ, SQ4,
          dict(xl=90.5, xr=299.7, c0=127.1, sp=46.7, yb=1504.3, ybv=0, yt=1301.7, ytv=10000, ymax=10560,
               ticks=[0, 2000, 4000, 6000, 8000, 10000]), ST_I,
          [(0, None, 1.06, None, 9836, "n.s.", 0.55, 10330),
           (2, 5311, 3, 2927, 7256, "0.0467", 2.5, 7947)])
colorbars(19, 1513, 1523)
groups(19, [(-0.05, 1.08), (1.87, 3.02)], 1590, 1605, 1609)
text(8.4, 1283, "I", LETTER)
text(28, 1387, "Tumor size (mm<sup>3</sup>)", F(20, color="#222"), angle=-90)

# ---------------- K ----------------
bar_panel(20, IGG, KCD8_mean, KCD8_sd, KCD8_pts, C_K, SQ4,
          dict(xl=404.9, xr=593.5, c0=433.5, sp=42.4, yb=1510.7, ybv=0, yt=1328.3, ytv=10, ymax=10.2,
               ticks=[0, 2, 4, 6, 8, 10]), ST_K,
          [(1.64, None, 3.03, None, 9.69, "0.0213", 2.19, 9.08)])
xr_, yr_, kx0, kx1 = bar_panel(21, IGG, KCD4_mean, KCD4_sd, KCD4_pts, C_K, SQ4,
                               dict(xl=631.4, xr=812.6, c0=655.3, sp=42.4, yb=1513.3, ybv=-2, yt=1329.3,
                                    ytv=8, ymax=8.2, ticks=[-2, 0, 2, 4, 6, 8]), ST_K)
SHP.append(dict(type="line", xref=xr_, yref=yr_, x0=kx0, x1=kx1, y0=0, y1=0, line=dict(color="black", width=2)))
bar_panel(22, IGG, MDSC_mean, MDSC_sd, MDSC_pts, C_K, SQ4,
          dict(xl=885.3, xr=1090.7, c0=918.3, sp=47.1, yb=1514.3, ybv=0, yt=1310.7, ytv=100, ymax=101,
               ticks=[0, 20, 40, 60, 80, 100]), dict(ST_K, blw=2.5),
          [(-0.18, None, 1.89, None, 86.7, "0.0393", 1.05, 81.8),
           (2.12, None, 3.24, None, 86.7, "0.0169", 2.71, 81.8)])
groups(20, [(-0.1, 1.14), (2.0, 3.27)], 1595, 1610, 1613)
groups(21, [(-0.17, 1.09), (1.94, 3.2)], 1595, 1610, 1613)
groups(22, [(0.03, 1.16), (1.93, 3.08)], 1595, 1610, 1613)
hline(418.8, 1088.6, 1643.3)
text(757, 1664, "Tumors", F(22, bold=True, color="#222"))
text(334.6, 1301.7, "K", LETTER)
text(500.9, 1321.7, "CD8+", F(24, color="#222"))
text(724.9, 1320, "CD4+", F(24, color="#222"))
text(997.5, 1320, "MDSC", F(24, color="#222"))
text(362, 1414, "Positive cells (%)", F(21, color="#222"), angle=-90)
text(837, 1415, "Positive cells (%)", F(21, color="#222"), angle=-90)

# ---------------- J ----------------
bar_panel(23, IGG, J_mean, J_sd, J_pts, C_IJ, SQ4,
          dict(xl=96.8, xr=301, c0=127.5, sp=46.9, yb=1918.3, ybv=0, yt=1714.3, ytv=6, ymax=6.08,
               ticks=[0, 2, 4, 6]), ST_I,
          [(0, None, 1.05, None, 5.81, "n.s.", 0.55, 6.1),
           (2, 1.81, 3.07, 1.57, 2.99, "0.0472", 2.56, 3.36)])
colorbars(23, 1928, 1938)
groups(23, [(-0.09, 1.03), (1.88, 3.02)], 2005, 2019, 2022)
text(8.4, 1688, "J", LETTER)
text(52.6, 1820, "Weight of tumors (gram)", F(20, color="#222"), angle=-90)

bar_panel(24, IGG, LN8_mean, LN8_sd, LN8_pts, C_K, SQ4,
          dict(xl=416.7, xr=606, c0=446.2, sp=43.2, yb=1920, ybv=0, yt=1732.3, ytv=30, ymax=30.3,
               ticks=[0, 10, 20, 30]), ST_K,
          [(2.04, None, 3.43, None, 27.0, "0.0289", 2.85, 25.4)])
bar_panel(25, IGG, LN4_mean, LN4_sd, LN4_pts, C_K, SQ4,
          dict(xl=648.2, xr=838.3, c0=677.8, sp=43.2, yb=1920, ybv=0, yt=1733.3, ytv=50, ymax=50.5,
               ticks=[0, 10, 20, 30, 40, 50]), ST_K,
          [(0, 32.9, 3, 39.3, 46.4, "n.s", 1.44, 47.7, [(1, 29.9), (2, 42.9)], 14)])
bar_panel(26, IGG, SPB_mean, SPB_sd, SPB_pts, C_K, SYM4,
          dict(xl=887.5, xr=1099.3, c0=920.4, sp=48.2, yb=1920, ybv=0, yt=1714.3, ytv=80, ymax=80.8,
               ticks=[0, 20, 40, 60, 80]), ST_SP,
          [(0, 38.2, 3, 58.3, 66.8, "n.s", 1.56, 69.3, [(1, 42.8), (2, 43.4)], 14)])
groups(24, [(-0.26, 1.0), (1.85, 3.15)], 2005, 2019, 2022)
groups(25, [(-0.25, 1.05), (1.9, 3.2)], 2005, 2019, 2022)
groups(26, [(0.07, 1.18), (1.86, 2.97)], 2003, 2018, 2021)
hline(435.6, 806.2, 2052.3)
hline(891.8, 1093.7, 2050.7)
text(627, 2068.3, "Lymph node", F(22, bold=True, color="#222"))
text(992.3, 2070.7, "Spleen", F(22, bold=True, color="#222"))
text(519.8, 1714, "CD8+", F(24, color="#222"))
text(746.3, 1711, "CD4+", F(24, color="#222"))
text(983, 1712, "B cell", F(24, color="#222"))
text(372.5, 1823, "Positive cells (%)", F(21, color="#222"), angle=-90)
text(845, 1817, "Positive cells (%)", F(15, bold=True), angle=-90)

fig.update_layout(width=W, height=H, margin=dict(l=0, r=0, t=0, b=0, pad=0), autosize=False,
                  paper_bgcolor="white", plot_bgcolor="rgba(0,0,0,0)", showlegend=False,
                  font=dict(family=FONT, color="black"), shapes=SHP, annotations=ANN, **LAY)
fig.write_html("out.html", post_script="document.body.style.margin='0px';",
               config={"displayModeBar": False, "responsive": False})
